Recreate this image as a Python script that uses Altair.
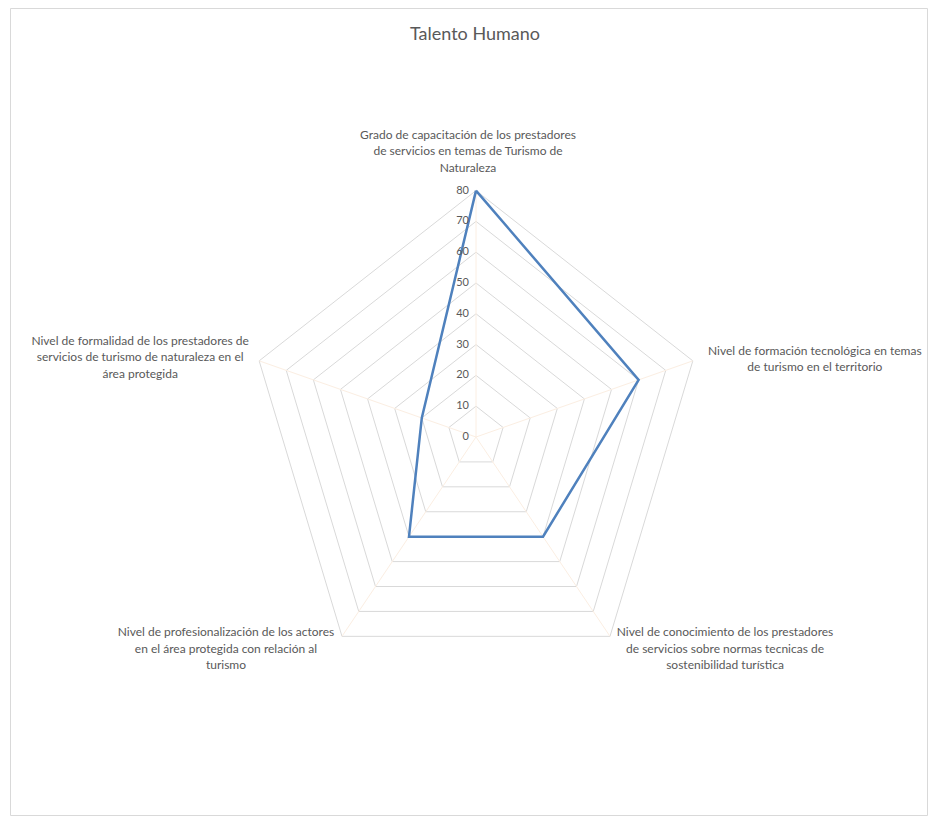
import math
import altair as alt
import pandas as pd

# ---- data ----
categories = [
    "Grado de capacitación de los prestadores\nde servicios en temas de Turismo de\nNaturaleza",
    "Nivel de formación tecnológica en temas\nde turismo en el territorio",
    "Nivel de conocimiento de los prestadores\nde servicios sobre normas tecnicas de\nsostenibilidad turística",
    "Nivel de profesionalización de los actores\nen el área protegida con relación al\nturismo",
    "Nivel de formalidad de los prestadores de\nservicios de turismo de naturaleza en el\nárea protegida",
]
values = [80, 60, 40, 40, 20]
ticks = [0, 10, 20, 30, 40, 50, 60, 70, 80]
title_text = "Talento Humano"

# ---- layout helpers (pixel scale of the picture) ----
SX, SY = 2.85, 3.08          # px per unit, horizontal / vertical
CX, CY = 476, 437            # centre in page pixels
PAD_L, PAD_T, PAD_R, PAD_B = 10, 8, 1, 8
W, H = 928 - PAD_L - PAD_R, 823 - PAD_T - PAD_B
x_dom = [(PAD_L - CX) / SX, (928 - PAD_R - CX) / SX]
y_dom = [-(823 - PAD_B - CY) / SY, (CY - PAD_T) / SY]
RMAX = max(ticks)

n = len(categories)
ang = [math.radians(90 - 360 * i / n) for i in range(n)]

xs = alt.Scale(domain=x_dom, nice=False, zero=False)
ys = alt.Scale(domain=y_dom, nice=False, zero=False)
X = lambda: alt.X("x:Q", scale=xs, axis=None)
Y = lambda: alt.Y("y:Q", scale=ys, axis=None)

# grid rings
rows = []
for t in ticks[1:]:
    for k in range(n + 1):
        a = ang[k % n]
        rows.append({"lvl": t, "k": k, "x": t * math.cos(a), "y": t * math.sin(a)})
grid = pd.DataFrame(rows)

# spokes
srows = []
for i, a in enumerate(ang):
    srows.append({"s": i, "k": 0, "x": 0.0, "y": 0.0})
    srows.append({"s": i, "k": 1, "x": RMAX * math.cos(a), "y": RMAX * math.sin(a)})
spk = pd.DataFrame(srows)

# series
drows = []
for k in range(n + 1):
    i = k % n
    drows.append({"k": k, "x": values[i] * math.cos(ang[i]), "y": values[i] * math.sin(ang[i]),
                  "v": values[i], "cat": categories[i].replace("\n", " ")})
ser = pd.DataFrame(drows)

# tick labels
tk = pd.DataFrame({"t": ticks, "x": [0.0] * len(ticks), "y": ticks})

# category labels: pixel offsets (first line) from the outer vertex
lab_off = [(-8, -56), (122, -10), (115, -4), (-116, -4), (-119, -20)]
lrows = []
for i, (c, (dx, dy)) in enumerate(zip(categories, lab_off)):
    lrows.append({"txt": c.split("\n"),
                  "x": RMAX * math.cos(ang[i]) + dx / SX,
                  "y": RMAX * math.sin(ang[i]) - dy / SY})
labs = pd.DataFrame(lrows)

FONT = "Lato"
grey = "#595959"

rings = alt.Chart(grid).mark_line(color="#d9d9d9", strokeWidth=1).encode(
    x=X(), y=Y(), detail="lvl:N", order="k:Q")
spokes = alt.Chart(spk).mark_line(color="#fbeee2", strokeWidth=1).encode(
    x=X(), y=Y(), detail="s:N", order="k:Q")
line = alt.Chart(ser).mark_line(color="#4f81bd", strokeWidth=2.5, strokeJoin="miter").encode(
    x=X(), y=Y(), order="k:Q", tooltip=["cat:N", "v:Q"])
tlab = alt.Chart(tk).mark_text(font=FONT, fontSize=11, color=grey, align="right",
                              baseline="middle", dx=-7).encode(x=X(), y=Y(), text="t:Q")
clab = alt.Chart(labs).mark_text(font=FONT, fontSize=12, color=grey, align="center",
                                baseline="middle", lineHeight=16.5).encode(
    x=X(), y=Y(), text="txt")
ttl = alt.Chart(pd.DataFrame({"t": [title_text], "x": [-1 / SX], "y": [(CY - 35) / SY]})).mark_text(
    font=FONT, fontSize=18, color=grey, align="center", baseline="middle").encode(
    x=X(), y=Y(), text="t:N")

chart = alt.layer(rings, spokes, line, tlab, clab, ttl).properties(
    width=W, height=H,
    autosize=alt.AutoSizeParams(type="none"),
    padding={"left": PAD_L, "top": PAD_T, "right": PAD_R, "bottom": PAD_B},
    background="white",
).configure_view(stroke="#d9d9d9", strokeWidth=1)

chart.save("out.html", embed_options={"renderer": "svg", "actions": False})
